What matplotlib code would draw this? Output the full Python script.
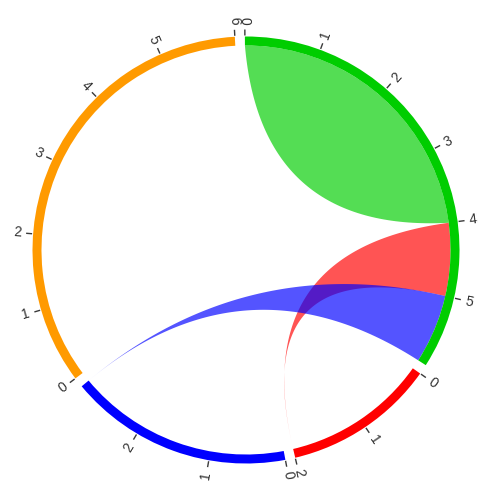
import numpy as np
import matplotlib
matplotlib.use("Agg")
import matplotlib.pyplot as plt
from matplotlib.path import Path
from matplotlib.patches import PathPatch, Wedge

# ---- data -------------------------------------------------------------
sectors = ["A", "B", "C", "D"]
sector_len = [5.95, 2.0, 2.95, 6.0]
sector_colors = ["#00CD00", "#FF0000", "#0000FF", "#FF9A00"]
tick_values = [[0, 1, 2, 3, 4, 5], [0, 1, 2], [0, 1, 2], [0, 1, 2, 3, 4, 5, 6]]

link_from = ["A", "A", "A"]
link_from_start = [0.0, 4.0, 5.0]
link_from_end = [2.0, 5.0, 5.95]
link_to = ["A", "B", "C"]
link_to_start = [2.0, 2.0, 2.95]
link_to_end = [4.0, 2.0, 2.95]
link_colors = ["#00CD00", "#FF0000", "#0000FF"]

# ---- layout / style ---------------------------------------------------
start_deg = 90.3
gap_deg = 2.7
r_out, r_in = 213.5, 204.5
tick_r0, tick_r1, label_r = 214.5, 220.5, 225.5
link_alpha = 0.67
link_bend = [0.15, 0.0, 0.0]

unit = (360.0 - gap_deg * len(sectors)) / sum(sector_len)
sector_start = {}
acc = 0.0
for i, s in enumerate(sectors):
    sector_start[s] = start_deg - acc * unit - i * gap_deg
    acc += sector_len[i]


def angle(sec, x):
    return sector_start[sec] - x * unit


def polar(r, deg):
    t = np.deg2rad(deg)
    return np.array([r * np.cos(t), r * np.sin(t)])


fig = plt.figure(figsize=(4.8, 4.87), dpi=100)
ax = fig.add_axes([0, 0, 1, 1])
ax.set_xlim(-246, 234)
ax.set_ylim(-237, 250)
ax.set_aspect("equal")
ax.axis("off")


def arc_pts(sec, x0, x1, r):
    a0, a1 = angle(sec, x0), angle(sec, x1)
    n = max(2, int(abs(a1 - a0) * 2) + 2)
    return [polar(r, a) for a in np.linspace(a0, a1, n)]


def bezier_pts(p0, p2, bend, n=80):
    if np.allclose(p0, p2):
        return [p0]
    c = bend * (p0 + p2) / 2.0
    t = np.linspace(0, 1, n)[:, None]
    pts = (1 - t) ** 2 * p0 + 2 * t * (1 - t) * c + t ** 2 * p2
    return list(pts)


# ---- links ------------------------------------------------------------
for i in range(len(link_from)):
    s1, s2 = link_from[i], link_to[i]
    a1, b1 = link_from_start[i], link_from_end[i]
    a2, b2 = link_to_start[i], link_to_end[i]
    pts = []
    pts += arc_pts(s1, a1, b1, r_in)
    pts += bezier_pts(polar(r_in, angle(s1, b1)), polar(r_in, angle(s2, a2)), link_bend[i])
    pts += arc_pts(s2, a2, b2, r_in)
    pts += bezier_pts(polar(r_in, angle(s2, b2)), polar(r_in, angle(s1, a1)), link_bend[i])
    pts = np.array(pts)
    poly = plt.Polygon(pts, closed=True, facecolor=link_colors[i], alpha=link_alpha,
                       edgecolor="none", zorder=2 + i)
    ax.add_patch(poly)

# ---- tracks, ticks and labels -----------------------------------------
for i, s in enumerate(sectors):
    t_start = angle(s, 0)
    t_end = angle(s, sector_len[i])
    ax.add_patch(Wedge((0, 0), r_out, t_end, t_start, width=r_out - r_in,
                       facecolor=sector_colors[i], edgecolor="none", zorder=10))
    for v in tick_values[i]:
        a = angle(s, v)
        p0, p1 = polar(tick_r0, a), polar(tick_r1, a)
        ax.plot([p0[0], p1[0]], [p0[1], p1[1]], color="#3a3a3a", lw=1.0,
                solid_capstyle="butt", zorder=11)
        pl = polar(label_r, a)
        an = ((a + 180) % 360) - 180
        if -90 <= an <= 90:
            rot, ha = an, "left"
        else:
            rot, ha = an - 180, "right"
        ax.text(pl[0], pl[1], str(v), rotation=rot, rotation_mode="anchor",
                ha=ha, va="center", fontsize=10, color="#333333",
                family=["Liberation Sans", "DejaVu Sans"], zorder=12)

fig.savefig("out.png", dpi=100)
